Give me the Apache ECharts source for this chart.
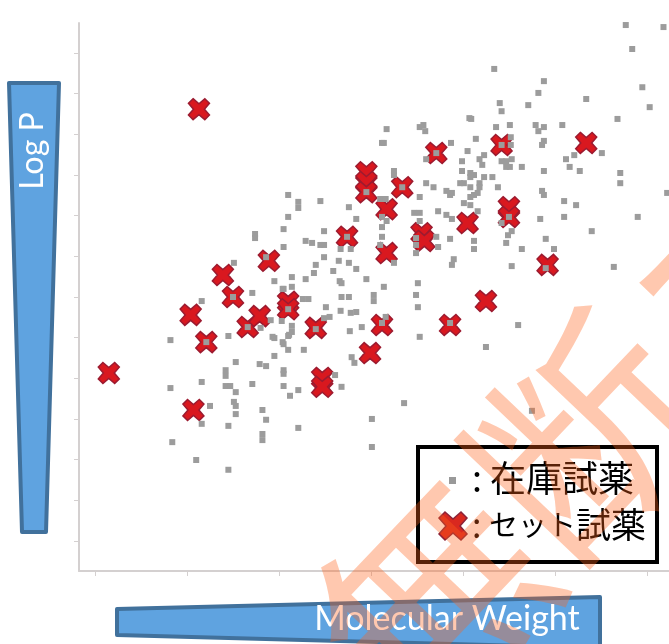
<!DOCTYPE html>
<html>

<head>
  <meta charset="utf-8">
  <style>
    html, body { margin: 0; padding: 0; background: #fff; }
    #main { width: 669px; height: 644px; }
  </style>
  <script src="https://cdn.jsdelivr.net/npm/echarts@6/dist/echarts.min.js"></script>
</head>

<body>
  <div id="main"></div>
  <script type="text/javascript">
    // 目盛り(ラベルなしなので単位は推定)
    var mwTicks = [100, 200, 300, 400, 500, 600, 700];
    var logPTicks = [-4, -3, -2, -1, 0, 1, 2, 3, 4, 5, 6, 7, 8];

    // セット試薬 [Molecular Weight, Log P]
    var setReagents = [
      [115, 0.13], [213, 6.62], [239, 2.54], [250, 2.00], [289, 2.89], [204, 1.56], [221, 0.89],
      [207, -0.78], [266, 1.26], [279, 1.53], [310, 1.88], [310, 1.70], [340, 1.24], [399, 0.62],
      [347, 0.01], [347, -0.21], [374, 3.48], [395, 5.07], [395, 4.83], [395, 4.58], [434, 4.70],
      [417, 4.16], [417, 3.08], [471, 5.54], [542, 5.74], [634, 5.79], [550, 4.21], [550, 3.97],
      [505, 3.82], [455, 3.57], [458, 3.38], [592, 2.79], [525, 1.90], [486, 1.31], [412, 1.31]
    ];

    // 在庫試薬 左側
    var stockLeft = [
      [310, 4.51], [321, 4.34], [321, 4.19], [345, 4.36], [310, 3.97], [305, 3.67], [349, 3.62],
      [274, 3.55], [274, 3.45], [329, 3.38], [336, 3.33], [345, 3.28], [349, 3.28], [305, 3.23],
      [349, 2.98], [340, 2.79], [251, 2.84], [359, 2.64], [338, 2.59], [314, 2.49], [329, 2.44],
      [295, 2.39], [314, 2.25], [305, 2.20], [271, 2.10], [326, 1.95], [332, 1.95], [216, 1.90],
      [351, 1.75], [355, 1.51], [349, 1.48], [304, 2.20], [291, 1.43], [280, 1.24], [314, 1.29],
      [311, 1.07], [293, 1.02], [304, 0.89], [303, 1.41],
      [182, 0.94], [245, 1.04], [295, 0.99], [310, 1.04], [314, 1.14], [305, 0.84], [310, 0.70],
      [327, 0.70], [295, 0.55], [253, 0.40], [279, 0.35], [286, 0.30], [242, 0.20], [242, 0.06],
      [305, 0.20], [305, 0.11], [216, -0.09], [182, -0.24], [242, -0.19], [247, -0.19], [271, -0.14],
      [305, -0.19], [321, -0.29], [312, -0.43], [253, -0.34], [251, -0.58], [253, -0.68], [225, -0.68],
      [253, -0.88], [282, -0.78], [286, -1.02], [216, -1.12], [245, -1.17], [321, -1.22], [282, -1.37],
      [282, -1.52], [184, -1.57], [210, -2.01], [245, -2.25]
    ];

    // 在庫試薬 右側
    var stockRight = [
      [677, 8.69], [718, 8.64], [684, 8.10], [534, 7.61], [588, 7.31], [695, 7.16], [582, 7.02],
      [634, 6.87], [540, 6.77], [571, 6.72], [703, 6.67], [542, 6.57], [668, 6.38], [507, 6.40],
      [509, 6.38], [551, 6.23], [579, 6.23], [588, 6.18], [608, 6.23], [536, 6.18], [582, 6.08],
      [457, 6.23], [453, 6.18], [459, 6.08], [417, 6.13], [412, 5.79], [414, 5.79], [487, 5.79],
      [552, 5.93], [552, 5.74], [514, 5.89], [588, 5.84], [586, 5.74], [505, 5.59], [523, 5.49],
      [651, 5.54], [621, 5.49], [518, 5.39], [612, 5.39], [553, 5.39], [499, 5.34], [542, 5.34],
      [547, 5.34], [521, 5.25], [460, 5.39], [564, 5.20], [547, 5.20], [551, 5.20], [616, 5.20],
      [499, 5.10], [588, 5.10], [627, 5.10], [671, 5.05], [508, 5.05], [512, 5.00], [508, 4.95],
      [523, 4.95], [532, 4.95], [425, 5.10], [425, 5.00], [497, 4.80], [501, 4.80], [518, 4.80],
      [460, 4.80], [671, 4.80], [468, 4.70], [508, 4.70], [518, 4.70], [538, 4.70], [482, 4.61],
      [488, 4.56], [486, 4.51], [516, 4.56], [512, 4.51], [586, 4.61], [588, 4.51], [722, 4.56],
      [453, 4.46], [508, 4.46], [610, 4.36], [501, 4.31], [508, 4.26], [623, 4.26], [376, 4.21],
      [410, 4.41], [416, 4.41], [473, 4.11], [516, 4.11], [447, 4.07], [453, 4.07], [482, 4.02],
      [488, 3.92], [584, 3.92], [610, 3.97], [690, 3.97], [384, 3.92], [412, 3.97], [417, 3.87],
      [453, 3.87], [542, 3.82], [412, 3.72], [640, 3.62], [553, 3.62], [549, 3.52], [471, 3.48],
      [486, 3.43], [412, 3.48], [590, 3.43], [512, 3.38], [547, 3.33], [410, 3.28], [473, 3.23],
      [564, 3.18], [599, 3.18], [512, 3.18], [367, 3.18], [378, 3.18], [449, 3.08], [425, 2.84],
      [490, 2.93], [365, 2.89], [376, 2.84], [488, 2.79], [553, 2.76], [664, 2.74], [384, 2.69],
      [395, 2.44], [366, 2.39], [368, 2.34], [451, 2.34], [414, 2.25], [449, 2.05], [403, 2.05],
      [403, 1.90], [368, 2.00], [376, 2.00], [451, 1.75], [367, 1.66], [378, 1.61], [384, 1.63],
      [416, 1.51]
    ];

    // 在庫試薬 右下
    var stockLower = [
      [560, 1.31], [377, 1.16], [390, 1.26], [453, 1.02], [525, 0.77], [379, 0.52], [382, 0.38],
      [361, 0.08], [368, -0.21], [436, -0.61], [575, -0.80], [401, -1.00], [401, -1.69]
    ];

    // 赤いマークの中に見えるもの
    var stockInMarks = [
      [250, 2.00], [221, 0.89], [286, 2.98], [310, 1.70], [266, 1.26], [340, 1.21], [374, 3.48],
      [395, 4.58], [434, 4.70], [471, 5.54], [542, 5.74], [550, 3.97], [590, 2.71], [412, 1.36],
      [486, 1.36], [449, 3.45], [449, 3.28]
    ];

    var xMark = 'path://M2.2 0 L5 2.4 L7.8 0 L10 2.2 L7.6 5 L10 7.8 L7.8 10 L5 7.6 L2.2 10 L0 7.8 L2.4 5 L0 2.2 Z';
    var labelFont = 'Lato, "Open Sans", sans-serif';
    var jpFont = '"Noto Sans CJK JP", sans-serif';

    var myChart = echarts.init(document.getElementById('main'), null, { renderer: 'canvas' });

    var option = {
      animation: false,
      backgroundColor: '#fff',
      grid: { left: 79, right: 0, top: 23, bottom: 73 },
      xAxis: {
        type: 'value', min: 82.6, max: 724,
        splitLine: { show: false },
        axisLine: { onZero: false, lineStyle: { color: '#d4d0d0', width: 2 } },
        axisTick: { show: true, length: 5, customValues: mwTicks, lineStyle: { color: '#d4d0d0' } },
        axisLabel: { show: false }
      },
      yAxis: {
        type: 'value', min: -4.74, max: 8.74,
        splitLine: { show: false },
        axisLine: { onZero: false, lineStyle: { color: '#d4d0d0', width: 2 } },
        axisTick: { show: true, length: 5, customValues: logPTicks, lineStyle: { color: '#d4d0d0' } },
        axisLabel: { show: false }
      },
      series: [
        {
          name: 'セット試薬', type: 'scatter', z: 2, silent: true,
          data: setReagents, symbol: xMark, symbolSize: 21,
          itemStyle: { color: '#d9181f', borderColor: '#9c1b30', borderWidth: 1.5, opacity: 1 }
        },
        {
          name: '在庫試薬', type: 'scatter', z: 3, silent: true,
          data: stockLeft.concat(stockRight, stockLower, stockInMarks), symbol: 'rect', symbolSize: 6,
          itemStyle: { color: '#9c9c9c', opacity: 1 }
        }
      ],
      graphic: { elements: [
        // Log P の帯
        {
          type: 'polygon', z: 4,
          shape: { points: [[9, 83], [59, 83], [46, 532], [22, 532]] },
          style: { fill: '#5fa3e0', stroke: '#41719c', lineWidth: 4, lineJoin: 'round' }
        },
        {
          type: 'text', z: 5, x: 33, y: 151, rotation: Math.PI / 2,
          style: { text: 'Log P', fill: '#fff', fontSize: 32, fontFamily: labelFont, align: 'center', verticalAlign: 'middle' }
        },
        // Molecular Weight の帯
        {
          type: 'polygon', z: 4,
          shape: { points: [[117, 609], [600, 597], [600, 648], [117, 635]] },
          style: { fill: '#5fa3e0', stroke: '#41719c', lineWidth: 4, lineJoin: 'round' }
        },
        {
          type: 'text', z: 5, x: 447, y: 619,
          style: { text: 'Molecular Weight', fill: '#fff', fontSize: 34, fontFamily: labelFont, align: 'center', verticalAlign: 'middle' }
        },
        // 凡例
        {
          type: 'rect', z: 6,
          shape: { x: 418, y: 447, width: 239, height: 115 },
          style: { fill: '#fff', stroke: '#000', lineWidth: 4 }
        },
        {
          type: 'rect', z: 7,
          shape: { x: 449, y: 477, width: 7, height: 7 },
          style: { fill: '#999' }
        },
        {
          type: 'polygon', z: 7,
          shape: { points: [[445, 512], [453, 519], [461, 512], [467, 518], [460, 526], [467, 534], [461, 540], [453, 533], [445, 540], [439, 534], [446, 526], [439, 518]] },
          style: { fill: '#d9281f', stroke: '#8c2338', lineWidth: 1.5 }
        },
        {
          type: 'text', z: 7, x: 472, y: 478,
          style: { text: ': 在庫試薬', fill: '#000', fontSize: 36, fontFamily: jpFont, align: 'left', verticalAlign: 'middle' }
        },
        {
          type: 'text', z: 7, x: 472, y: 525,
          style: {
            text: ': {a|セット}{b|試薬}', fill: '#000', fontSize: 34, fontFamily: jpFont, align: 'left', verticalAlign: 'middle',
            rich: {
              a: { fontSize: 29, fontFamily: jpFont, fill: '#000' },
              b: { fontSize: 35, fontFamily: jpFont, fill: '#000' }
            }
          }
        },
        // 透かし
        {
          type: 'text', z: 30, z2: 100, x: 356, y: 679, rotation: 0.81, silent: true,
          style: { text: '無断コピー禁止', fill: 'rgba(255, 98, 26, 0.35)', fontSize: 222, fontFamily: jpFont, align: 'left', verticalAlign: 'middle' }
        }
      ] }
    };

    myChart.setOption(option);
  </script>
</body>

</html>
